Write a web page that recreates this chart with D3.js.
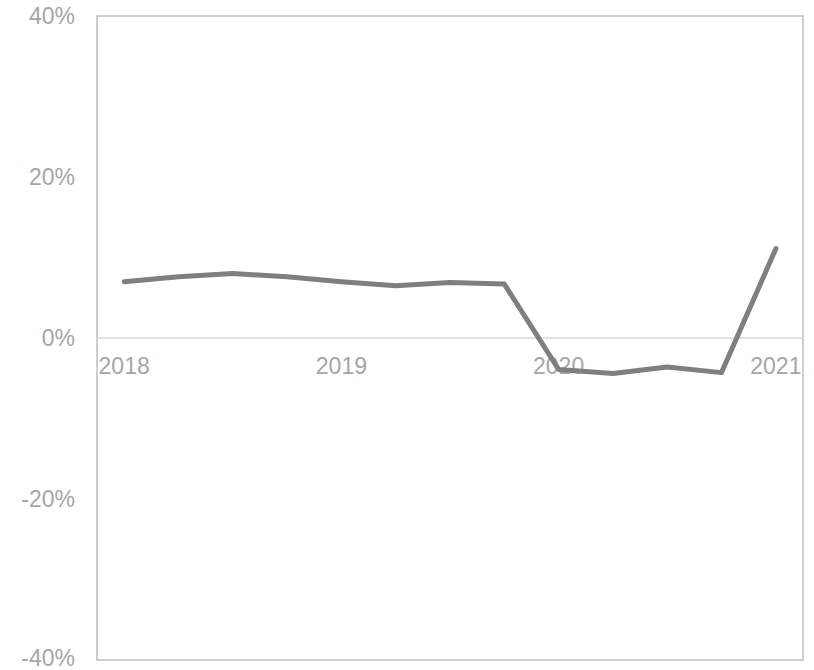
<!DOCTYPE html>
<html>
<head>
<meta charset="utf-8">
<script src="https://cdn.jsdelivr.net/npm/d3@7"></script>
<style>
  html, body { margin: 0; padding: 0; background: #fff; }
  svg { display: block; }
  text { font-family: "Liberation Sans", Arial, sans-serif; }
</style>
</head>
<body>
<svg id="chart" width="814" height="670"></svg>
<script>
// Quarterly growth rate, 2018 Q1 – 2021 Q1
const quarters = ["2018Q1","2018Q2","2018Q3","2018Q4","2019Q1","2019Q2","2019Q3","2019Q4",
                  "2020Q1","2020Q2","2020Q3","2020Q4","2021Q1"];
const growth = [7.0, 7.6, 8.0, 7.6, 7.0, 6.5, 6.9, 6.7, -3.9, -4.4, -3.6, -4.3, 11.1];
const xTickLabels = ["2018","","","","2019","","","","2020","","","","2021"];
const yTicks = [-40, -20, 0, 20, 40];

const svg = d3.select("#chart");
const plot = { left: 97, top: 16, right: 803, bottom: 660 };
const labelFont = "23px";

const x = d3.scaleBand().domain(quarters).range([plot.left, plot.right]).padding(0);
const y = d3.scaleLinear().domain([-40, 40]).range([plot.bottom, plot.top]);

// plot frame
svg.append("rect")
  .attr("x", plot.left).attr("y", plot.top)
  .attr("width", plot.right - plot.left).attr("height", plot.bottom - plot.top)
  .attr("fill", "none").attr("stroke", "#bfbfbf").attr("stroke-width", 1.5);

// zero line
svg.append("line")
  .attr("x1", plot.left).attr("x2", plot.right)
  .attr("y1", y(0)).attr("y2", y(0))
  .attr("stroke", "#d9d9d9").attr("stroke-width", 1.5);

// y axis labels
const yAxis = d3.axisLeft(y).tickValues(yTicks).tickFormat(d => d + "%").tickSize(0).tickPadding(22);
const gy = svg.append("g").attr("transform", `translate(${plot.left},0)`).call(yAxis);
gy.select(".domain").remove();
gy.selectAll("text").attr("fill", "#a6a6a6").style("font-size", labelFont)
  .style("font-family", "'Liberation Sans', Arial, sans-serif")
  // keep the lowest label inside the canvas
  .attr("dy", d => d === -40 ? "0.22em" : "0.32em");

// category labels just below the zero line
const xAxis = d3.axisBottom(x).tickFormat((d, i) => xTickLabels[i]).tickSize(0).tickPadding(20);
const gx = svg.append("g").attr("transform", `translate(0,${y(0)})`).call(xAxis);
gx.select(".domain").remove();
gx.selectAll("text").attr("fill", "#a6a6a6").style("font-size", labelFont)
  .style("font-family", "'Liberation Sans', Arial, sans-serif");

// growth line
const line = d3.line()
  .x((d, i) => x(quarters[i]) + x.bandwidth() / 2)
  .y(d => y(d));

svg.append("path")
  .datum(growth)
  .attr("d", line)
  .attr("fill", "none")
  .attr("stroke", "#7f7f7f")
  .attr("stroke-width", 5)
  .attr("stroke-linejoin", "round")
  .attr("stroke-linecap", "round");
</script>
</body>
</html>
